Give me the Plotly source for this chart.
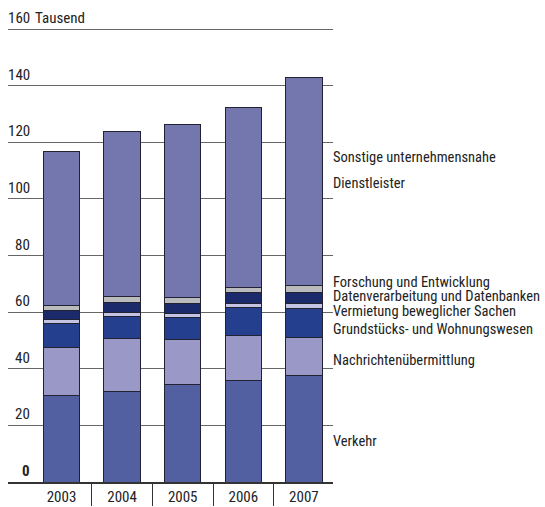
import plotly.graph_objects as go

# ---- data ----
years = [2003, 2004, 2005, 2006, 2007]
verkehr = [30.7, 32.0, 34.3, 35.7, 37.8]
nachrichten = [16.9, 18.8, 15.9, 16.2, 13.3]
grundstuecke = [8.5, 7.6, 7.9, 9.8, 10.3]
vermietung = [1.4, 1.6, 1.5, 1.4, 1.7]
datenverarbeitung = [3.0, 3.5, 3.5, 3.8, 4.0]
forschung = [1.8, 2.0, 2.0, 1.9, 2.3]
sonstige = [54.4, 58.3, 61.3, 63.6, 73.6]

series_names = [
    "Verkehr",
    "Nachrichtenübermittlung",
    "Grundstücks- und Wohnungswesen",
    "Vermietung beweglicher Sachen",
    "Datenverarbeitung und Datenbanken",
    "Forschung und Entwicklung",
    "Sonstige unternehmensnahe Dienstleister",
]
series_values = [verkehr, nachrichten, grundstuecke, vermietung,
                 datenverarbeitung, forschung, sonstige]

y_tickvals = [0, 20, 40, 60, 80, 100, 120, 140, 160]
y_ticktext = ["<b>0</b>", "20", "40", "60", "80", "100", "120", "140", "160"]
y_unit = "Tausend"

# ---- styling / layout ----
colors = ["#525fa0", "#9a98c7", "#243f8e", "#c3c3e3", "#1b2a6b", "#b9bbbd", "#7476ae"]
FONT = "Roboto Condensed, Liberation Sans Narrow, DejaVu Sans Condensed, sans-serif"

# right-hand labels (text, y position in data units)
side_labels = [
    ("Sonstige unternehmensnahe", 114.5),
    ("Dienstleister", 105.6),
    ("Forschung und Entwicklung", 70.4),
    ("Datenverarbeitung und Datenbanken", 65.5),
    ("Vermietung beweglicher Sachen", 60.4),
    ("Grundstücks- und Wohnungswesen", 53.9),
    ("Nachrichtenübermittlung", 43.1),
    ("Verkehr", 14.2),
]

fig = go.Figure()
for name, vals, col in zip(series_names, series_values, colors):
    fig.add_trace(go.Bar(
        x=years, y=vals, name=name, width=0.6,
        marker=dict(color=col, line=dict(color="#222233", width=1)),
    ))

for text, yv in side_labels:
    fig.add_annotation(
        x=1, xref="paper", y=yv, yref="y", text=text, showarrow=False,
        xanchor="left", yanchor="middle", xshift=-2,
        font=dict(family=FONT, size=14.5, color="#222222"),
    )

# y tick labels: right-aligned numbers sitting just above each gridline
for tv, tt in zip(y_tickvals, y_ticktext):
    fig.add_annotation(
        x=0, xref="paper", y=tv, yref="y", text=tt, showarrow=False,
        xanchor="right", yanchor="bottom", xshift=24, yshift=0,
        font=dict(family=FONT, size=15, color="#222222"),
    )
fig.add_annotation(
    x=0, xref="paper", y=y_tickvals[-1], yref="y", text=y_unit, showarrow=False,
    xanchor="left", yanchor="bottom", xshift=25, yshift=0,
    font=dict(family=FONT, size=15, color="#222222"),
)

fig.update_layout(
    width=545, height=507,
    margin=dict(l=8, r=212, t=28, b=25),
    barmode="stack",
    showlegend=False,
    plot_bgcolor="white",
    paper_bgcolor="white",
    font=dict(family=FONT, size=15, color="#222222"),
    xaxis=dict(
        range=[2002.117, 2007.48],
        tickmode="array", tickvals=years, ticktext=[str(y) for y in years],
        ticks="", showgrid=False, zeroline=False,
        showline=True, linecolor="#333333", linewidth=1.5,
        minor=dict(tickmode="array", tickvals=[y + 0.5 for y in years[:-1]],
                   ticks="outside", ticklen=22, tickwidth=1.2, tickcolor="#333333",
                   showgrid=False),
        tickfont=dict(family=FONT, size=15, color="#222222"),
        automargin=False,
        fixedrange=True,
    ),
    yaxis=dict(
        range=[0, 160.4],
        tickmode="array", tickvals=y_tickvals,
        showticklabels=False,
        ticks="", showgrid=True, gridcolor="#666666", gridwidth=1.2,
        zeroline=False, showline=False,
        automargin=False,
        fixedrange=True,
    ),
)

fig.write_html(
    "out.html",
    config={"displayModeBar": False},
    post_script="document.body.style.margin='0';document.body.style.padding='0';",
)
